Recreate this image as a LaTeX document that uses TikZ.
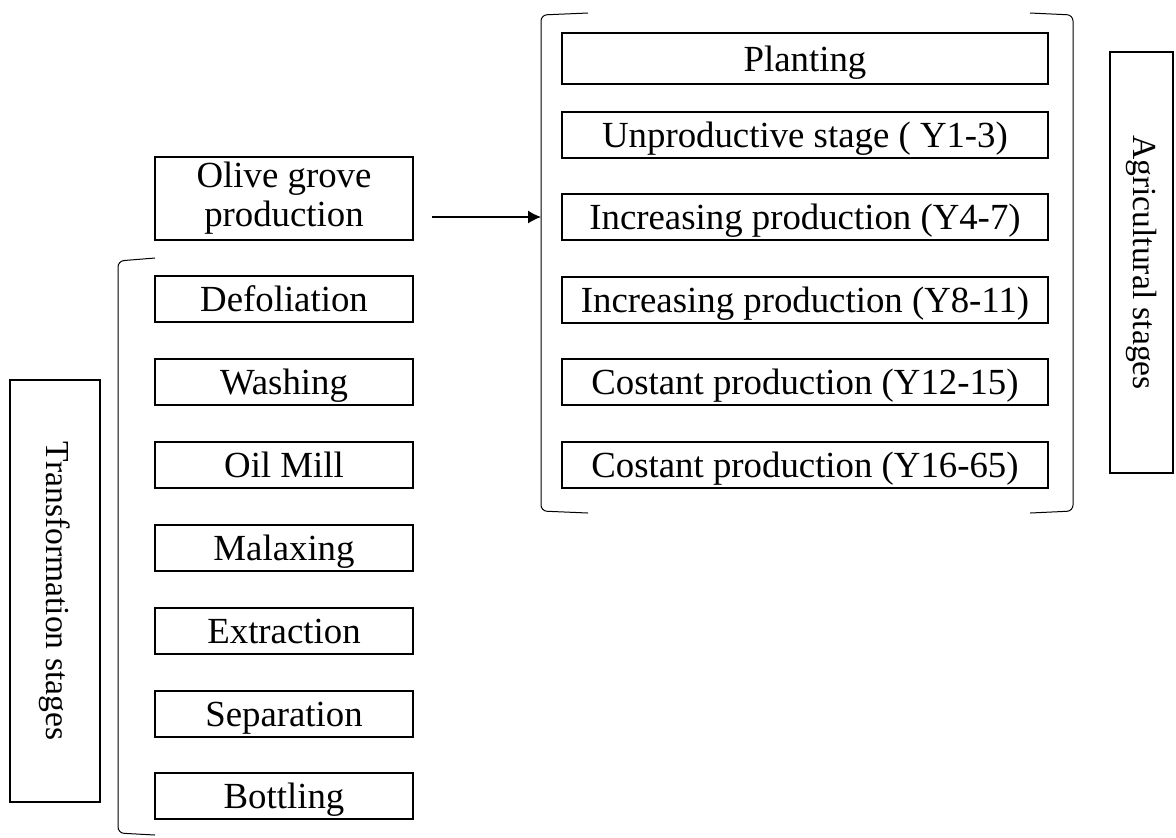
\documentclass[tikz,border=0pt]{standalone}
\usepackage{fontspec}
\setmainfont{Liberation Serif}
\usetikzlibrary{arrows.meta}
\begin{document}
\begin{tikzpicture}[x=0.5pt,y=-0.5pt,
  stagebox/.style={draw,line width=1pt,minimum height=23pt,inner sep=0pt,
    text depth=0pt,font=\fontsize{18.4}{19.5}\selectfont},
  agbox/.style={stagebox,minimum width=243pt},
  trbox/.style={stagebox,minimum width=129pt},
  sidebox/.style={draw,line width=0.8pt,inner sep=0pt,rotate=-90,
    font=\fontsize{16.8}{19}\selectfont},
  brace/.style={line width=0.5pt,rounded corners=3pt}]
\useasboundingbox (0,0) rectangle (1176,837);
%
% agricultural stages
\node[agbox,minimum height=25.5pt] (plant) at (805,58.5) {Planting};
\node[agbox] (unprod) at (805,134.5) {Unproductive stage ( Y1-3)};
\node[agbox] (incA) at (805,217) {Increasing production (Y4-7)};
\node[agbox] (incB) at (805,299.5) {Increasing production (Y8-11)};
\node[agbox] (constA) at (805,382) {Costant production (Y12-15)};
\node[agbox] (constB) at (805,464.5) {Costant production (Y16-65)};
\coordinate (agtop) at (541,13);
\draw[brace] (588,13) -- (541,15) -- (541,511) -- (588,513);
\draw[brace] (1030,13) -- (1073,15) -- (1073,511) -- (1030,513);
\node[sidebox,minimum width=210.5pt,minimum height=31.5pt] (agri) at (1141.5,262.5) {Agricultural stages};
%
% transformation stages
\node[trbox,minimum height=41.5pt,align=center,text depth=] (olive) at (284,198.5) {Olive grove\\production};
\node[trbox] (defol) at (284,299) {Defoliation};
\node[trbox] (wash) at (284,382) {Washing};
\node[trbox] (mill) at (284,465) {Oil Mill};
\node[trbox] (malax) at (284,548) {Malaxing};
\node[trbox] (extr) at (284,631) {Extraction};
\node[trbox] (separ) at (284,714) {Separation};
\node[trbox] (bottl) at (284,796) {Bottling};
\draw[brace] (155,258) -- (118,261) -- (118,833) -- (155,835);
\node[sidebox,minimum width=211pt,minimum height=45pt] (transf) at (55,591) {Transformation stages};
%
\draw[line width=0.6pt,-{Latex[length=6.5pt,width=6.5pt]}] ([xshift=9pt]olive.east |- incA.west) -- (agtop |- incA.west);
%
\end{tikzpicture}
\end{document}
